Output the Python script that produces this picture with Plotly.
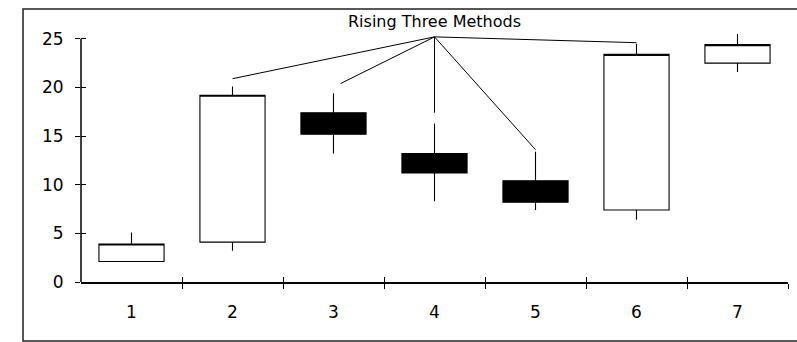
import plotly.graph_objects as go

# ---- data ----
days = [1, 2, 3, 4, 5, 6, 7]
opens = [2.1, 4.1, 17.4, 13.2, 10.4, 7.4, 22.5]
highs = [5.1, 20.1, 19.4, 16.3, 13.4, 24.5, 25.5]
lows = [2.1, 3.2, 13.2, 8.3, 7.4, 6.4, 21.6]
closes = [3.9, 19.2, 15.2, 11.2, 8.2, 23.4, 24.4]

y_ticks = [0, 5, 10, 15, 20, 25]
x_labels = ["1", "2", "3", "4", "5", "6", "7"]
bounds = [1.5, 2.5, 3.5, 4.5, 5.5, 6.5, 7.5]

pattern_label = "Rising Three Methods"
pointer_origin = (4, 25.2)
pointer_x = [2, 3.07, 4, 5, 6]
pointer_y = [20.9, 20.4, 17.4, 13.6, 24.6]

FONT = "DejaVu Sans"

fig = go.Figure()
fig.add_trace(go.Candlestick(
    x=days, open=opens, high=highs, low=lows, close=closes,
    increasing=dict(fillcolor="white", line=dict(color="black", width=1.1)),
    decreasing=dict(fillcolor="black", line=dict(color="black", width=1.1)),
    whiskerwidth=0, showlegend=False, hoverinfo="skip",
))
# helper trace so that the overlay axes (inside ticks) are drawn
fig.add_trace(go.Scatter(x=[None], y=[None], xaxis="x2", yaxis="y2",
                         showlegend=False, hoverinfo="skip"))

shapes = []
for px, py in zip(pointer_x, pointer_y):
    shapes.append(dict(type="line", xref="x", yref="y",
                       x0=pointer_origin[0], y0=pointer_origin[1], x1=px, y1=py,
                       line=dict(color="black", width=1)))
# y axis line from 0 to 25
shapes.append(dict(type="line", xref="paper", yref="y", x0=0, x1=0,
                   y0=y_ticks[0], y1=y_ticks[-1], line=dict(color="black", width=1.5)))
# outer frame
shapes.append(dict(type="rect", xref="paper", yref="paper",
                   x0=-0.082, x1=1.02, y0=-0.236, y1=1.092,
                   line=dict(color="#222", width=1.5)))

fig.update_layout(
    width=797, height=342,
    margin=dict(l=81, r=9, t=32, b=60),
    paper_bgcolor="white", plot_bgcolor="white",
    boxgap=0.355, boxgroupgap=0,
    font=dict(family=FONT, color="black", size=16),
    shapes=shapes,
    annotations=[dict(text=pattern_label, xref="x", yref="paper",
                      x=pointer_origin[0], y=1.04, showarrow=False,
                      font=dict(family=FONT, size=16, color="black"),
                      xanchor="center", yanchor="middle")],
    xaxis=dict(range=[0.5, 7.5], tickvals=days, ticktext=x_labels,
               ticks="", showgrid=False, zeroline=False,
               showline=True, linecolor="black", linewidth=1.5,
               rangeslider=dict(visible=False),
               ticklabelstandoff=14,
               minor=dict(tickvals=bounds, ticks="outside", ticklen=5,
                          tickwidth=1.2, tickcolor="black", showgrid=False),
               tickfont=dict(size=17)),
    yaxis=dict(range=[0, 25.7], tickvals=y_ticks, ticks="outside", ticklen=5,
               tickwidth=1.2, tickcolor="black", showgrid=False, zeroline=False,
               showline=False, ticklabelstandoff=8, tickfont=dict(size=17)),
    xaxis2=dict(range=[0.5, 7.5], overlaying="x", anchor="y2", side="bottom",
                tickvals=bounds, ticks="inside", ticklen=5, tickwidth=1.2,
                tickcolor="black", showticklabels=False, showgrid=False,
                zeroline=False, showline=False),
    yaxis2=dict(range=[0, 25.7], overlaying="y", anchor="x2", side="left",
                tickvals=y_ticks, ticks="inside", ticklen=5, tickwidth=1.2,
                tickcolor="black", showticklabels=False, showgrid=False,
                zeroline=False, showline=False),
)

fig.write_html("out.html", config={"displayModeBar": False},
               post_script="document.body.style.margin='0';document.body.style.padding='0';")
